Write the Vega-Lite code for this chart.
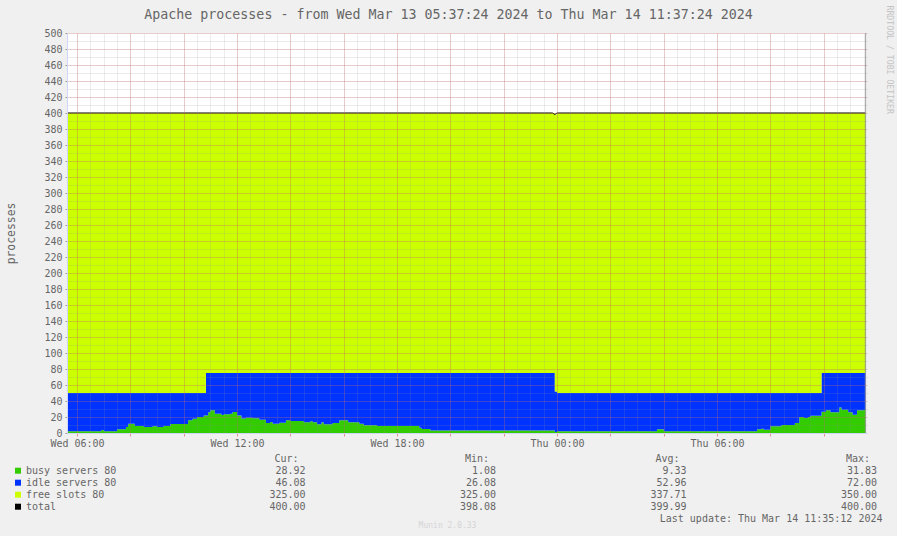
{
  "$schema": "https://vega.github.io/schema/vega-lite/v6.json",
  "width": 800,
  "height": 400,
  "autosize": {"type": "none"},
  "padding": {"left": 67, "top": 33, "right": 30, "bottom": 103},
  "background": "#F0F0F0",
  "config": {
    "view": {"fill": "#FFFFFF", "stroke": null},
    "font": "DejaVu Sans Mono",
    "axis": {
      "labelFont": "DejaVu Sans Mono",
      "labelFontSize": 10,
      "labelColor": "#666666",
      "titleFont": "DejaVu Sans Mono",
      "titleFontWeight": "normal",
      "titleColor": "#666666",
      "domainColor": "#CFD6F8",
      "labelOverlap": false,
      "labelFlush": false
    },
    "text": {"font": "DejaVu Sans Mono", "fontSize": 10, "fill": "#666666"}
  },
  "resolve": {"scale": {"x": "independent", "y": "independent"}},
  "layer": [
    {
      "resolve": {"axis": {"x": "independent", "y": "independent"}},
      "layer": [
        {
          "data": {
            "values": [
              {"t": "2024-03-13T05:35:00Z", "busy servers 80": 2.1, "idle servers 80": 47.9, "free slots 80": 350},
              {"t": "2024-03-13T06:55:00Z", "busy servers 80": 3.7, "idle servers 80": 46.3, "free slots 80": 350},
              {"t": "2024-03-13T07:00:00Z", "busy servers 80": 2.1, "idle servers 80": 47.9, "free slots 80": 350},
              {"t": "2024-03-13T07:30:00Z", "busy servers 80": 4.6, "idle servers 80": 45.4, "free slots 80": 350},
              {"t": "2024-03-13T07:50:00Z", "busy servers 80": 7.5, "idle servers 80": 42.5, "free slots 80": 350},
              {"t": "2024-03-13T07:55:00Z", "busy servers 80": 11.7, "idle servers 80": 38.3, "free slots 80": 350},
              {"t": "2024-03-13T08:10:00Z", "busy servers 80": 8.8, "idle servers 80": 41.2, "free slots 80": 350},
              {"t": "2024-03-13T08:30:00Z", "busy servers 80": 7.5, "idle servers 80": 42.5, "free slots 80": 350},
              {"t": "2024-03-13T08:50:00Z", "busy servers 80": 8.3, "idle servers 80": 41.7, "free slots 80": 350},
              {"t": "2024-03-13T09:00:00Z", "busy servers 80": 7.5, "idle servers 80": 42.5, "free slots 80": 350},
              {"t": "2024-03-13T09:15:00Z", "busy servers 80": 8.8, "idle servers 80": 41.2, "free slots 80": 350},
              {"t": "2024-03-13T09:30:00Z", "busy servers 80": 11.3, "idle servers 80": 38.7, "free slots 80": 350},
              {"t": "2024-03-13T10:10:00Z", "busy servers 80": 15.8, "idle servers 80": 34.2, "free slots 80": 350},
              {"t": "2024-03-13T10:20:00Z", "busy servers 80": 17.9, "idle servers 80": 32.1, "free slots 80": 350},
              {"t": "2024-03-13T10:30:00Z", "busy servers 80": 20, "idle servers 80": 30, "free slots 80": 350},
              {"t": "2024-03-13T10:45:00Z", "busy servers 80": 22, "idle servers 80": 28, "free slots 80": 350},
              {"t": "2024-03-13T10:50:00Z", "busy servers 80": 22, "idle servers 80": 53, "free slots 80": 325},
              {"t": "2024-03-13T10:55:00Z", "busy servers 80": 25.8, "idle servers 80": 49.2, "free slots 80": 325},
              {"t": "2024-03-13T11:00:00Z", "busy servers 80": 28.3, "idle servers 80": 46.7, "free slots 80": 325},
              {"t": "2024-03-13T11:10:00Z", "busy servers 80": 24, "idle servers 80": 51, "free slots 80": 325},
              {"t": "2024-03-13T11:25:00Z", "busy servers 80": 22.5, "idle servers 80": 52.5, "free slots 80": 325},
              {"t": "2024-03-13T11:30:00Z", "busy servers 80": 23.3, "idle servers 80": 51.7, "free slots 80": 325},
              {"t": "2024-03-13T11:45:00Z", "busy servers 80": 24, "idle servers 80": 51, "free slots 80": 325},
              {"t": "2024-03-13T11:50:00Z", "busy servers 80": 26.3, "idle servers 80": 48.7, "free slots 80": 325},
              {"t": "2024-03-13T12:00:00Z", "busy servers 80": 22, "idle servers 80": 53, "free slots 80": 325},
              {"t": "2024-03-13T12:10:00Z", "busy servers 80": 18, "idle servers 80": 57, "free slots 80": 325},
              {"t": "2024-03-13T12:20:00Z", "busy servers 80": 19, "idle servers 80": 56, "free slots 80": 325},
              {"t": "2024-03-13T12:35:00Z", "busy servers 80": 18.3, "idle servers 80": 56.7, "free slots 80": 325},
              {"t": "2024-03-13T12:50:00Z", "busy servers 80": 16.7, "idle servers 80": 58.3, "free slots 80": 325},
              {"t": "2024-03-13T13:05:00Z", "busy servers 80": 12.5, "idle servers 80": 62.5, "free slots 80": 325},
              {"t": "2024-03-13T13:15:00Z", "busy servers 80": 13.8, "idle servers 80": 61.2, "free slots 80": 325},
              {"t": "2024-03-13T13:20:00Z", "busy servers 80": 11.7, "idle servers 80": 63.3, "free slots 80": 325},
              {"t": "2024-03-13T13:35:00Z", "busy servers 80": 12.9, "idle servers 80": 62.1, "free slots 80": 325},
              {"t": "2024-03-13T13:50:00Z", "busy servers 80": 15.8, "idle servers 80": 59.2, "free slots 80": 325},
              {"t": "2024-03-13T14:00:00Z", "busy servers 80": 15, "idle servers 80": 60, "free slots 80": 325},
              {"t": "2024-03-13T14:30:00Z", "busy servers 80": 13.3, "idle servers 80": 61.7, "free slots 80": 325},
              {"t": "2024-03-13T14:45:00Z", "busy servers 80": 14.6, "idle servers 80": 60.4, "free slots 80": 325},
              {"t": "2024-03-13T14:50:00Z", "busy servers 80": 13.3, "idle servers 80": 61.7, "free slots 80": 325},
              {"t": "2024-03-13T15:00:00Z", "busy servers 80": 10.8, "idle servers 80": 64.2, "free slots 80": 325},
              {"t": "2024-03-13T15:10:00Z", "busy servers 80": 13.3, "idle servers 80": 61.7, "free slots 80": 325},
              {"t": "2024-03-13T15:15:00Z", "busy servers 80": 10.8, "idle servers 80": 64.2, "free slots 80": 325},
              {"t": "2024-03-13T15:35:00Z", "busy servers 80": 12.5, "idle servers 80": 62.5, "free slots 80": 325},
              {"t": "2024-03-13T15:50:00Z", "busy servers 80": 15.8, "idle servers 80": 59.2, "free slots 80": 325},
              {"t": "2024-03-13T16:10:00Z", "busy servers 80": 13.3, "idle servers 80": 61.7, "free slots 80": 325},
              {"t": "2024-03-13T16:35:00Z", "busy servers 80": 11.7, "idle servers 80": 63.3, "free slots 80": 325},
              {"t": "2024-03-13T16:45:00Z", "busy servers 80": 9.6, "idle servers 80": 65.4, "free slots 80": 325},
              {"t": "2024-03-13T17:15:00Z", "busy servers 80": 8.8, "idle servers 80": 66.2, "free slots 80": 325},
              {"t": "2024-03-13T18:50:00Z", "busy servers 80": 6.7, "idle servers 80": 68.3, "free slots 80": 325},
              {"t": "2024-03-13T18:55:00Z", "busy servers 80": 5, "idle servers 80": 70, "free slots 80": 325},
              {"t": "2024-03-13T19:15:00Z", "busy servers 80": 3, "idle servers 80": 72, "free slots 80": 325},
              {"t": "2024-03-13T23:55:00Z", "busy servers 80": 1.1, "idle servers 80": 50.9, "free slots 80": 346},
              {"t": "2024-03-14T00:00:00Z", "busy servers 80": 2.1, "idle servers 80": 47.9, "free slots 80": 350},
              {"t": "2024-03-14T03:45:00Z", "busy servers 80": 4.6, "idle servers 80": 45.4, "free slots 80": 350},
              {"t": "2024-03-14T04:00:00Z", "busy servers 80": 2.1, "idle servers 80": 47.9, "free slots 80": 350},
              {"t": "2024-03-14T07:30:00Z", "busy servers 80": 4.6, "idle servers 80": 45.4, "free slots 80": 350},
              {"t": "2024-03-14T07:40:00Z", "busy servers 80": 5.4, "idle servers 80": 44.6, "free slots 80": 350},
              {"t": "2024-03-14T07:45:00Z", "busy servers 80": 4.2, "idle servers 80": 45.8, "free slots 80": 350},
              {"t": "2024-03-14T08:00:00Z", "busy servers 80": 8.3, "idle servers 80": 41.7, "free slots 80": 350},
              {"t": "2024-03-14T08:25:00Z", "busy servers 80": 10, "idle servers 80": 40, "free slots 80": 350},
              {"t": "2024-03-14T08:55:00Z", "busy servers 80": 12.5, "idle servers 80": 37.5, "free slots 80": 350},
              {"t": "2024-03-14T09:05:00Z", "busy servers 80": 20, "idle servers 80": 30, "free slots 80": 350},
              {"t": "2024-03-14T09:15:00Z", "busy servers 80": 18.8, "idle servers 80": 31.2, "free slots 80": 350},
              {"t": "2024-03-14T09:25:00Z", "busy servers 80": 20, "idle servers 80": 30, "free slots 80": 350},
              {"t": "2024-03-14T09:30:00Z", "busy servers 80": 21.7, "idle servers 80": 28.3, "free slots 80": 350},
              {"t": "2024-03-14T09:55:00Z", "busy servers 80": 26.7, "idle servers 80": 48.3, "free slots 80": 325},
              {"t": "2024-03-14T10:05:00Z", "busy servers 80": 28.3, "idle servers 80": 46.7, "free slots 80": 325},
              {"t": "2024-03-14T10:15:00Z", "busy servers 80": 25.8, "idle servers 80": 49.2, "free slots 80": 325},
              {"t": "2024-03-14T10:35:00Z", "busy servers 80": 31.8, "idle servers 80": 43.2, "free slots 80": 325},
              {"t": "2024-03-14T10:40:00Z", "busy servers 80": 29.2, "idle servers 80": 45.8, "free slots 80": 325},
              {"t": "2024-03-14T10:55:00Z", "busy servers 80": 25.8, "idle servers 80": 49.2, "free slots 80": 325},
              {"t": "2024-03-14T11:05:00Z", "busy servers 80": 22.9, "idle servers 80": 52.1, "free slots 80": 325},
              {"t": "2024-03-14T11:15:00Z", "busy servers 80": 28.3, "idle servers 80": 46.7, "free slots 80": 325},
              {"t": "2024-03-14T11:30:00Z", "busy servers 80": 28.9, "idle servers 80": 46.1, "free slots 80": 325},
              {"t": "2024-03-14T11:35:00Z", "busy servers 80": 28.9, "idle servers 80": 46.1, "free slots 80": 325}
            ]
          },
          "transform": [
            {"fold": ["busy servers 80", "idle servers 80", "free slots 80"], "as": ["series", "value"]},
            {
              "lookup": "series",
              "from": {
                "data": {"values": [
                  {"series": "busy servers 80", "ord": 1},
                  {"series": "idle servers 80", "ord": 2},
                  {"series": "free slots 80", "ord": 3}
                ]},
                "key": "series",
                "fields": ["ord"]
              }
            }
          ],
          "mark": {"type": "area", "interpolate": "step-after", "clip": true, "opacity": 1},
          "encoding": {
            "x": {
              "field": "t",
              "type": "temporal",
              "scale": {"type": "utc", "domain": [1710308244000, 1710416244000]},
              "axis": {
                "orient": "bottom",
                "values": [1710309600000, 1710316800000, 1710324000000, 1710331200000, 1710338400000, 1710345600000, 1710352800000, 1710360000000, 1710367200000, 1710374400000, 1710381600000, 1710388800000, 1710396000000, 1710403200000, 1710410400000],
                "labelExpr": "utchours(datum.value) % 6 == 0 ? utcFormat(datum.value, '%a %H:%M') : ''",
                "grid": true,
                "gridColor": "#DE4F4F",
                "gridOpacity": 0.4,
                "gridDash": [1, 1],
                "tickColor": "#E89090",
                "tickSize": 3,
                "labelPadding": 2,
                "zindex": 2,
                "title": "Munin 2.0.33",
                "titleFontSize": 8,
                "titleColor": "#D4D4D4",
                "titleX": 380,
                "titleY": 94.5,
                "titleBaseline": "alphabetic",
                "titleAlign": "center"
              }
            },
            "y": {
              "field": "value",
              "type": "quantitative",
              "stack": "zero",
              "scale": {"domain": [0, 500], "nice": false},
              "axis": {
                "orient": "left",
                "values": [0, 20, 40, 60, 80, 100, 120, 140, 160, 180, 200, 220, 240, 260, 280, 300, 320, 340, 360, 380, 400, 420, 440, 460, 480, 500],
                "grid": true,
                "gridColor": "#DE4F4F",
                "gridOpacity": 0.4,
                "gridDash": [1, 1],
                "tickColor": "#999999",
                "tickSize": 2,
                "labelPadding": 3,
                "zindex": 2,
                "title": "processes",
                "titleFontSize": 11.4,
                "titleX": -56,
                "titleY": 200,
                "titleAngle": -90,
                "titleAlign": "center",
                "titleBaseline": "middle"
              }
            },
            "order": {"field": "ord", "type": "quantitative", "sort": "ascending"},
            "color": {
              "field": "series",
              "type": "nominal",
              "sort": ["busy servers 80", "idle servers 80", "free slots 80", "total"],
              "scale": {
                "domain": ["busy servers 80", "idle servers 80", "free slots 80", "total"],
                "range": ["#33CC00", "#0033FF", "#CCFF00", "#000000"]
              },
              "legend": {
                "orient": "none",
                "legendX": -54,
                "legendY": 432.7,
                "direction": "vertical",
                "title": null,
                "padding": 0,
                "symbolType": "square",
                "symbolSize": 36,
                "symbolStrokeWidth": 0,
                "symbolOpacity": 1,
                "labelFont": "DejaVu Sans Mono",
                "labelFontSize": 10,
                "labelColor": "#666666",
                "labelOffset": 3,
                "rowPadding": 2
              }
            }
          }
        },
        {
          "data": {
            "values": [
              {"t": "2024-03-13T05:35:00Z", "total": 400},
              {"t": "2024-03-13T23:50:00Z", "total": 400},
              {"t": "2024-03-13T23:55:00Z", "total": 398.1},
              {"t": "2024-03-14T00:00:00Z", "total": 400},
              {"t": "2024-03-14T11:35:00Z", "total": 400}
            ]
          },
          "mark": {"type": "line", "color": "#000000", "strokeWidth": 1, "clip": true},
          "encoding": {
            "x": {
              "field": "t",
              "type": "temporal",
              "axis": {
                "orient": "top",
                "values": [1710309600000, 1710311400000, 1710313200000, 1710315000000, 1710316800000, 1710318600000, 1710320400000, 1710322200000, 1710324000000, 1710325800000, 1710327600000, 1710329400000, 1710331200000, 1710333000000, 1710334800000, 1710336600000, 1710338400000, 1710340200000, 1710342000000, 1710343800000, 1710345600000, 1710347400000, 1710349200000, 1710351000000, 1710352800000, 1710354600000, 1710356400000, 1710358200000, 1710360000000, 1710361800000, 1710363600000, 1710365400000, 1710367200000, 1710369000000, 1710370800000, 1710372600000, 1710374400000, 1710376200000, 1710378000000, 1710379800000, 1710381600000, 1710383400000, 1710385200000, 1710387000000, 1710388800000, 1710390600000, 1710392400000, 1710394200000, 1710396000000, 1710397800000, 1710399600000, 1710401400000, 1710403200000, 1710405000000, 1710406800000, 1710408600000, 1710410400000, 1710412200000, 1710414000000, 1710415800000],
                "labels": false,
                "ticks": false,
                "domain": false,
                "grid": true,
                "gridColor": "#8F8F8F",
                "gridOpacity": 0.35,
                "gridDash": [1, 1],
                "zindex": 1,
                "title": "Apache processes - from Wed Mar 13 05:37:24 2024 to Thu Mar 14 11:37:24 2024",
                "titleFontSize": 13.3,
                "titleX": 381,
                "titleY": -14.5,
                "titleAlign": "center",
                "titleBaseline": "alphabetic"
              }
            },
            "y": {
              "field": "total",
              "type": "quantitative",
              "axis": {
                "orient": "right",
                "values": [0, 10, 20, 30, 40, 50, 60, 70, 80, 90, 100, 110, 120, 130, 140, 150, 160, 170, 180, 190, 200, 210, 220, 230, 240, 250, 260, 270, 280, 290, 300, 310, 320, 330, 340, 350, 360, 370, 380, 390, 400, 410, 420, 430, 440, 450, 460, 470, 480, 490, 500],
                "labels": false,
                "ticks": false,
                "domain": false,
                "grid": true,
                "gridColor": "#8F8F8F",
                "gridOpacity": 0.35,
                "gridDash": [1, 1],
                "zindex": 1,
                "title": "RRDTOOL / TOBI OETIKER",
                "titleFontSize": 8.2,
                "titleColor": "#C4C4C4",
                "titleAngle": 90,
                "titleX": 21,
                "titleY": -28,
                "titleAlign": "left",
                "titleBaseline": "middle"
              }
            }
          }
        },
        {
          "data": {"values": [{"t": "2024-03-14T11:34:30Z"}]},
          "mark": {"type": "rule", "color": "#999999", "strokeWidth": 1},
          "encoding": {
            "x": {"field": "t", "type": "temporal", "axis": null},
            "y": {"datum": 500, "axis": null},
            "y2": {"datum": 0}
          }
        }
      ]
    },
    {
      "layer": [
        {
          "data": {
            "values": [
              {"col": "Cur", "row": "r1", "v": 28.92},
              {"col": "Min", "row": "r1", "v": 1.08},
              {"col": "Avg", "row": "r1", "v": 9.33},
              {"col": "Max", "row": "r1", "v": 31.83},
              {"col": "Cur", "row": "r2", "v": 46.08},
              {"col": "Min", "row": "r2", "v": 26.08},
              {"col": "Avg", "row": "r2", "v": 52.96},
              {"col": "Max", "row": "r2", "v": 72.0},
              {"col": "Cur", "row": "r3", "v": 325.0},
              {"col": "Min", "row": "r3", "v": 325.0},
              {"col": "Avg", "row": "r3", "v": 337.71},
              {"col": "Max", "row": "r3", "v": 350.0},
              {"col": "Cur", "row": "r4", "v": 400.0},
              {"col": "Min", "row": "r4", "v": 398.08},
              {"col": "Avg", "row": "r4", "v": 399.99},
              {"col": "Max", "row": "r4", "v": 400.0}
            ]
          },
          "mark": {"type": "text", "align": "right", "baseline": "alphabetic"},
          "encoding": {
            "x": {"field": "col", "type": "nominal", "scale": {"type": "point", "domain": ["Cur", "Min", "Avg", "Max"], "range": [238.5, 810], "padding": 0}, "axis": null},
            "y": {"field": "row", "type": "nominal", "scale": {"type": "point", "domain": ["h", "r1", "r2", "r3", "r4", "r5"], "range": [429.3, 489.3], "padding": 0}, "axis": null},
            "text": {"field": "v", "type": "quantitative", "format": ".2f"}
          }
        },
        {
          "data": {
            "values": [
              {"col": "Cur", "row": "h", "label": "Cur:"},
              {"col": "Min", "row": "h", "label": "Min:"},
              {"col": "Avg", "row": "h", "label": "Avg:"},
              {"col": "Max", "row": "h", "label": "Max:"}
            ]
          },
          "mark": {"type": "text", "align": "right", "baseline": "alphabetic", "dx": -7},
          "encoding": {
            "x": {"field": "col", "type": "nominal"},
            "y": {"field": "row", "type": "nominal"},
            "text": {"field": "label"}
          }
        },
        {
          "data": {"values": [{"col": "Max", "row": "r5", "label": "Last update: Thu Mar 14 11:35:12 2024"}]},
          "mark": {"type": "text", "align": "right", "baseline": "alphabetic", "dx": 5.5},
          "encoding": {
            "x": {"field": "col", "type": "nominal"},
            "y": {"field": "row", "type": "nominal"},
            "text": {"field": "label"}
          }
        }
      ]
    }
  ]
}
